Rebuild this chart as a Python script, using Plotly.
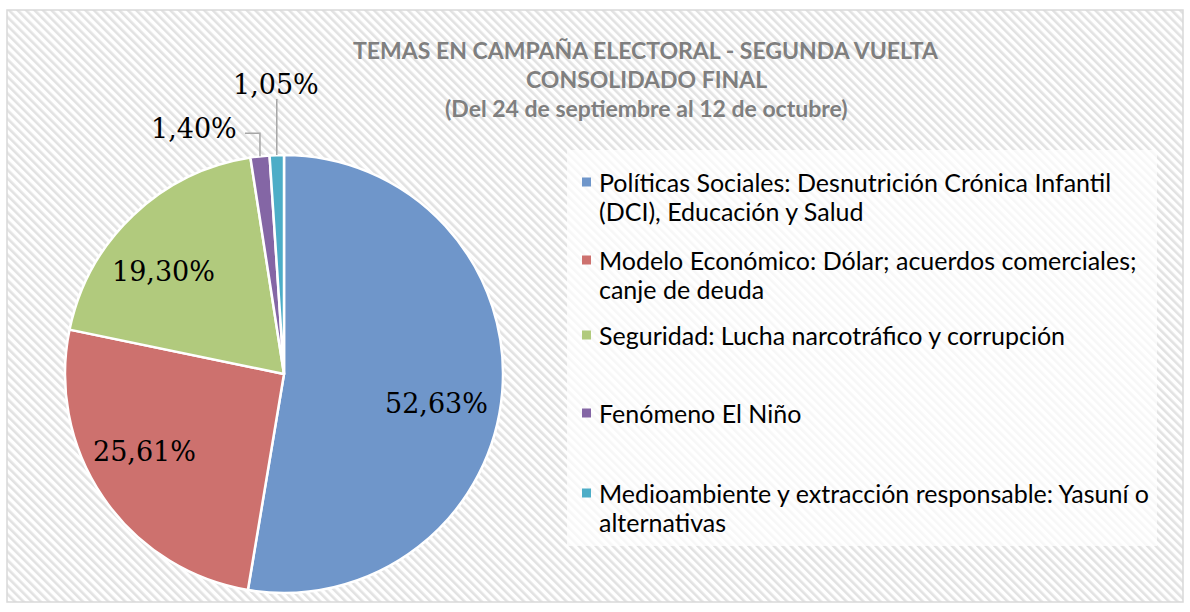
import math
import base64
import plotly.graph_objects as go

# ---------------- data ----------------
categories = [
    "Políticas Sociales: Desnutrición Crónica Infantil<br>(DCI), Educación y Salud",
    "Modelo Económico: Dólar; acuerdos comerciales;<br>canje de deuda",
    "Seguridad: Lucha narcotráfico y corrupción",
    "Fenómeno El Niño",
    "Medioambiente y extracción responsable: Yasuní o<br>alternativas",
]
values = [52.63, 25.61, 19.30, 1.40, 1.05]
colors = ["#6F96CA", "#CD716E", "#B1CA7D", "#8466A5", "#4DADC7"]
title_lines = [
    "TEMAS EN CAMPAÑA ELECTORAL - SEGUNDA VUELTA",
    "CONSOLIDADO FINAL",
    "(Del 24 de septiembre al 12 de octubre)",
]

W, H = 1190, 612
CX, CY, R = 284, 374, 219  # pie centre / radius in pixels
# small nudges of the inside labels (pixels), layout only
label_nudge = [(-5, 16), (-9, -12), (-12, 12), (0, 0), (0, 0)]


def px(x, y):
    return x / W, 1 - y / H


labels_txt = [f"{v:.2f}".replace(".", ",") + "%" for v in values]

fig = go.Figure()
fig.add_trace(go.Pie(
    labels=[c.replace("<br>", " ") for c in categories],
    values=values,
    sort=False,
    direction="clockwise",
    rotation=0,
    marker=dict(colors=colors, line=dict(color="white", width=2.5)),
    textinfo="none",
    hoverinfo="label+value",
    showlegend=False,
    domain=dict(x=[(CX - R) / W, (CX + R) / W], y=[(H - CY - R) / H, (H - CY + R) / H]),
))

annotations = []
shapes = []

# hatched background
svg = (
    "<svg xmlns='http://www.w3.org/2000/svg' width='1176' height='592'>"
    "<defs><pattern id='p' width='6' height='6' patternUnits='userSpaceOnUse' "
    "patternTransform='rotate(-45)'><rect width='6' height='6' fill='#ffffff'/>"
    "<rect width='2.6' height='6' fill='#e2e2e2'/></pattern></defs>"
    "<rect width='100%' height='100%' fill='url(#p)'/></svg>"
)
src = "data:image/svg+xml;base64," + base64.b64encode(svg.encode()).decode()
images = [dict(source=src, xref="paper", yref="paper", x=7 / W, y=1 - 10 / H,
               sizex=1176 / W, sizey=592 / H, xanchor="left", yanchor="top",
               sizing="stretch", layer="below")]

# border
x0, y0 = px(7, 10)
x1, y1 = px(1183, 602)
shapes.append(dict(type="rect", xref="paper", yref="paper", x0=x0, y0=y1, x1=x1, y1=y0,
                   line=dict(color="#D9D9D9", width=1.5), fillcolor="rgba(0,0,0,0)", layer="below"))

# legend box (semi-transparent white)
lx0, ly0 = px(567, 150)
lx1, ly1 = px(1157, 546)
shapes.append(dict(type="rect", xref="paper", yref="paper", x0=lx0, y0=ly1, x1=lx1, y1=ly0,
                   line=dict(width=0), fillcolor="rgba(255,255,255,0.72)", layer="below"))

# title
for i, t in enumerate(title_lines):
    tx, ty = px(646, 50 + i * 29)
    annotations.append(dict(text=f"<b>{t}</b>", x=tx, y=ty, xref="paper", yref="paper",
                            showarrow=False, xanchor="center", yanchor="middle",
                            font=dict(family="Lato", size=23, color="#7F7F7F")))

# data labels
total = sum(values)
cum = 0.0
serif = dict(family="DejaVu Serif", size=27, color="#000000")
for i, v in enumerate(values):
    mid = (cum + v / 2) / total
    cum += v
    ang = 2 * math.pi * mid
    ex = CX + R * math.sin(ang)
    ey = CY - R * math.cos(ang)
    if v > 5:
        rr = 0.72 * R
        lx = CX + rr * math.sin(ang) + label_nudge[i][0]
        ly = CY - rr * math.cos(ang) + label_nudge[i][1]
        ax_, ay_ = px(lx, ly)
        annotations.append(dict(text=labels_txt[i], x=ax_, y=ay_, xref="paper", yref="paper",
                                showarrow=False, xanchor="center", yanchor="middle", font=serif))
    else:
        if i == 3:
            # elbow leader to the left
            pts = [(ex, ey), (ex, ey - 23), (ex - 15, ey - 23)]
            lab_x, lab_y = ex - 21, ey - 28
            xa = "right"
        else:
            pts = [(ex, ey), (ex, ey - 56)]
            lab_x, lab_y = ex - 1, ey - 71
            xa = "center"
        path = "M " + " L ".join(f"{px(a, b)[0]},{px(a, b)[1]}" for a, b in pts)
        shapes.append(dict(type="path", xref="paper", yref="paper", path=path,
                           line=dict(color="#A6A6A6", width=1.5)))
        ax_, ay_ = px(lab_x, lab_y)
        annotations.append(dict(text=labels_txt[i], x=ax_, y=ay_, xref="paper", yref="paper",
                                showarrow=False, xanchor=xa, yanchor="middle", font=serif))

# custom legend
entry_y = [182, 260, 335, 413, 493]
for i, cat in enumerate(categories):
    lines = cat.split("<br>")
    sx0, sy0 = px(582, entry_y[i] - 4.5)
    sx1, sy1 = px(591, entry_y[i] + 4.5)
    shapes.append(dict(type="rect", xref="paper", yref="paper", x0=sx0, y0=sy1, x1=sx1, y1=sy0,
                       fillcolor=colors[i], line=dict(width=0)))
    for j, line in enumerate(lines):
        tx, ty = px(597, entry_y[i] + j * 28.5)
        annotations.append(dict(text=line, x=tx, y=ty, xref="paper", yref="paper",
                                showarrow=False, xanchor="left", yanchor="middle",
                                font=dict(family="Lato", size=25, color="#000000")))

fig.update_layout(
    width=W, height=H,
    margin=dict(l=0, r=0, t=0, b=0),
    paper_bgcolor="white",
    plot_bgcolor="white",
    annotations=annotations,
    shapes=shapes,
    images=images,
    showlegend=False,
)

fig.write_html("out.html", config={"displayModeBar": False},
               post_script="document.body.style.margin='0px';document.body.style.padding='0px';")
